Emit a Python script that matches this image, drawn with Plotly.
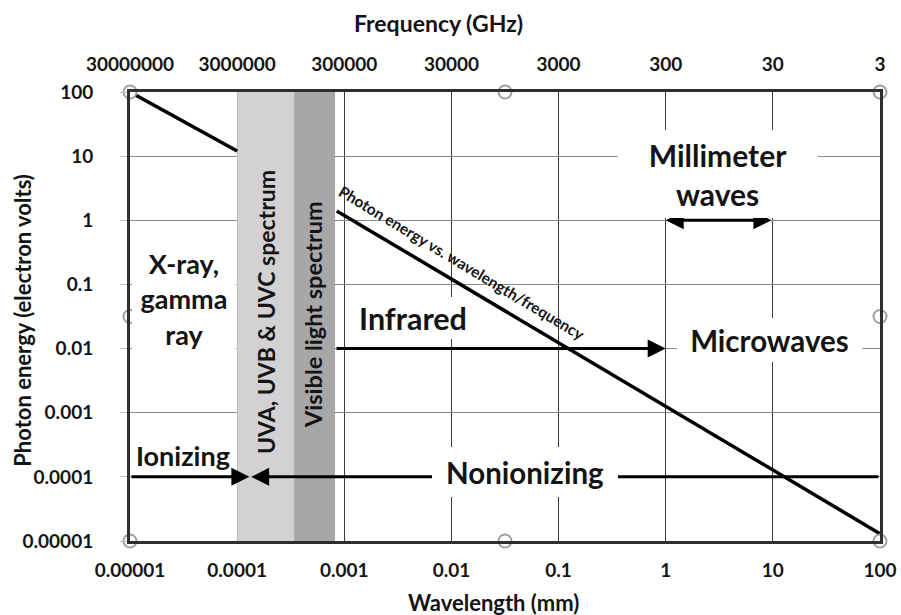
import math
import plotly.graph_objects as go

# ---------------- data ----------------
wavelength_ticks = [1e-5, 1e-4, 1e-3, 1e-2, 1e-1, 1, 10, 100]          # mm
wavelength_labels = ["0.00001", "0.0001", "0.001", "0.01", "0.1", "1", "10", "100"]
frequency_labels = ["30000000", "3000000", "300000", "30000", "3000", "300", "30", "3"]  # GHz
energy_ticks = [1e-5, 1e-4, 1e-3, 1e-2, 1e-1, 1, 10, 100]               # eV
energy_labels = ["0.00001", "0.0001", "0.001", "0.01", "0.1", "1", "10", "100"]

# photon energy curve (two visible pieces)
xray_wavelength = [1e-5, 1e-4]
xray_energy = [100, 12]
long_wavelength = [8.5e-4, 100]
long_energy = [1.4, 1.3e-5]

# spectrum bands (mm)
uv_band = [1e-4, 3.4e-4]
visible_band = [3.4e-4, 8.2e-4]

# arrows
ionizing_span = [1e-5, 1.3e-4]
nonionizing_span = [100, 1.35e-4]
ionizing_level = 1e-4
infrared_span = [8.2e-4, 1]
infrared_level = 1e-2
mmwave_span = [1, 10]
mmwave_level = 1

x_range = [1e-5, 100]
y_range = [1e-5, 100]

L = math.log10
FONT = "Lato"
INK = "#141414"

fig = go.Figure()

fig.add_trace(go.Scatter(x=xray_wavelength, y=xray_energy, mode="lines",
                         line=dict(color="#000000", width=3.5), showlegend=False,
                         hoverinfo="skip"))
fig.add_trace(go.Scatter(x=long_wavelength, y=long_energy, mode="lines",
                         line=dict(color="#000000", width=3.5), showlegend=False,
                         hoverinfo="skip"))

# invisible trace for top axis
fig.add_trace(go.Scatter(x=x_range, y=y_range, xaxis="x2", mode="markers",
                         marker=dict(opacity=0), showlegend=False, hoverinfo="skip"))

# bands
fig.add_shape(type="rect", xref="x", yref="y", x0=uv_band[0], x1=uv_band[1],
              y0=y_range[0], y1=y_range[1], fillcolor="#d3d1d3", line_width=0, layer="between")
fig.add_shape(type="rect", xref="x", yref="y", x0=visible_band[0], x1=visible_band[1],
              y0=y_range[0], y1=y_range[1], fillcolor="#a7a7a7", line_width=0, layer="between")

anns = []

def arrow(x_tip, x_tail, y, both=False):
    anns.append(dict(x=L(x_tip), y=L(y), ax=L(x_tail), ay=L(y), xref="x", yref="y",
                     axref="x", ayref="y", text="", showarrow=True, arrowhead=2,
                     arrowsize=1.2, arrowwidth=3, arrowcolor="#000000",
                     standoff=0, startstandoff=0,
                     arrowside="end+start" if both else "end"))

arrow(ionizing_span[1], ionizing_span[0], ionizing_level)
arrow(nonionizing_span[1], nonionizing_span[0], ionizing_level)
arrow(infrared_span[1], infrared_span[0], infrared_level)
arrow(mmwave_span[0], mmwave_span[1], mmwave_level, both=True)

def label(text, x, y, size, w=None, h=None, bg=None, angle=0):
    d = dict(x=x, y=y, xref="x", yref="y", text=text, showarrow=False,
             font=dict(family=FONT, size=size, color=INK, weight="bold"),
             textangle=angle, align="center", borderpad=0, borderwidth=0)
    if bg:
        d["bgcolor"] = bg
    if w:
        d["width"] = w
    if h:
        d["height"] = h
    anns.append(d)

label("Millimeter<br>waves", 0.488, 0.722, 30, w=200, h=88, bg="white")
label("Microwaves", 0.973, -1.87, 29.5, w=185, h=44, bg="white")
label("Nonionizing", -1.313, -3.924, 29.5, w=186, h=50, bg="white")
label("Infrared", -2.359, -1.523, 30.5, w=118, h=42, bg="white")
label("X-ray,<br>gamma<br>ray", -4.496, -1.22, 27, w=104, h=100, bg="white")
label("Ionizing", -4.505, -3.66, 27)
label("UVA, UVB &amp; UVC spectrum", -3.731, -1.43, 23, angle=-90)
label("Visible light spectrum", -3.292, -1.477, 23.5, angle=-90)
label("Photon energy vs. wavelength/frequency", -1.90, -0.666, 15.5, angle=31)

# axis titles
for txt, px, py, ang, fs in [("Frequency (GHz)", 0.4107, 1.153, 0, 23),
                             ("Wavelength (mm)", 0.4853, -0.137, 0, 22),
                             ("Photon energy (electron volts)", -0.1445, 0.492, -90, 22)]:
    anns.append(dict(x=px, y=py, xref="paper", yref="paper", text=txt, textangle=ang,
                     xanchor="center", yanchor="middle", showarrow=False,
                     font=dict(family=FONT, size=fs, color=INK, weight="bold")))

# frame handles (corners + mid-edges, in log space)
lx0, lx1 = L(x_range[0]), L(x_range[1])
ly0, ly1 = L(y_range[0]), L(y_range[1])
lxm, lym = (lx0 + lx1) / 2, (ly0 + ly1) / 2
hx = [lx0, lxm, lx1, lx0, lx1, lx0, lxm, lx1]
hy = [ly1, ly1, ly1, lym, lym, ly0, ly0, ly0]
fig.add_trace(go.Scatter(x=[10 ** v for v in hx], y=[10 ** v for v in hy], mode="markers",
                         marker=dict(size=13, color="white", line=dict(color="#a0a0a0", width=2)),
                         cliponaxis=False, showlegend=False, hoverinfo="skip"))

tickfont = dict(family=FONT, size=19, color=INK, weight="bold")

fig.update_layout(
    width=901, height=615,
    margin=dict(l=130, r=21, t=92, b=74, autoexpand=False),
    paper_bgcolor="white", plot_bgcolor="white",
    annotations=anns,
    xaxis=dict(type="log", range=[lx0, lx1], tickvals=wavelength_ticks,
               ticktext=wavelength_labels, tickfont=tickfont, automargin=False,
               showgrid=True, gridcolor="#3a3a3a", gridwidth=1,
               showline=True, linecolor="#2e2e2e", linewidth=3, mirror=True,
               ticks="", ticklabelstandoff=10, zeroline=False),
    xaxis2=dict(type="log", range=[lx0, lx1], tickvals=wavelength_ticks,
                ticktext=frequency_labels, tickfont=tickfont, overlaying="x",
                side="top", anchor="y", showgrid=False, showline=False, automargin=False,
                ticks="", ticklabelstandoff=16, zeroline=False),
    yaxis=dict(type="log", range=[ly0, ly1], tickvals=energy_ticks,
               ticktext=energy_labels, tickfont=tickfont, automargin=False,
               showgrid=True, gridcolor="#8a8a8a", gridwidth=1,
               showline=True, linecolor="#2e2e2e", linewidth=3, mirror=True,
               ticks="outside", ticklen=7, tickcolor="#bdbdbd",
               ticklabelstandoff=23, zeroline=False),
)

fig.write_html("out.html", config={"displayModeBar": False},
               post_script="document.body.style.margin='0';document.body.style.overflow='hidden';")
